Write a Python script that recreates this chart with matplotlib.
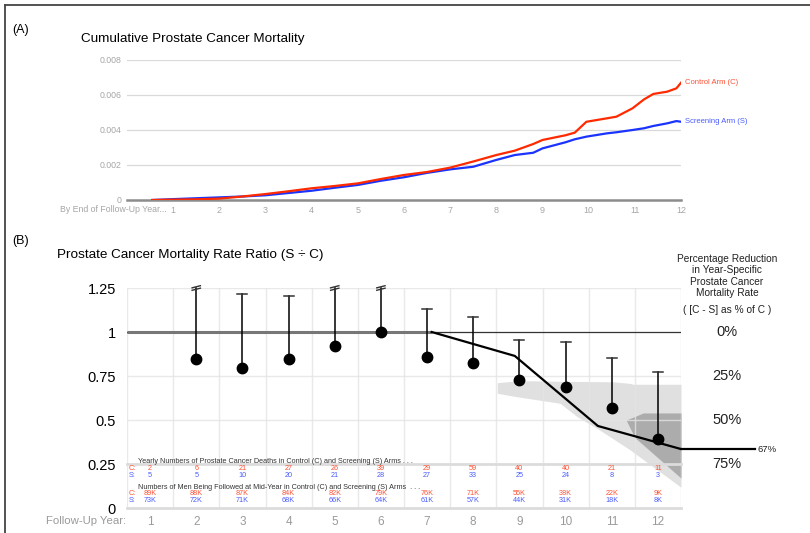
import matplotlib
matplotlib.use('Agg')
import matplotlib.pyplot as plt
import matplotlib.transforms as mtransforms
from matplotlib.lines import Line2D
import numpy as np

plt.rcParams['font.family'] = ['Liberation Sans', 'DejaVu Sans']

# ---- Panel A data: cumulative mortality by follow-up year ----
cum_years = [0.55, 1, 1.5, 2, 2.5, 3, 3.5, 4, 4.5, 5, 5.5, 6, 6.5, 7, 7.5, 8,
             8.4, 8.8, 9, 9.5, 9.7, 9.95, 10.4, 10.6, 10.95, 11.2, 11.4, 11.7, 11.9, 12]
cum_control = [0, 0.00002, 0.00004, 0.00008, 0.0002, 0.00034, 0.0005, 0.00067, 0.0008,
               0.00095, 0.0012, 0.00143, 0.0016, 0.00185, 0.0022, 0.00257,
               0.00282, 0.0032, 0.00343, 0.0037, 0.00385, 0.00447, 0.00467, 0.00476,
               0.00524, 0.00575, 0.00606, 0.00619, 0.00638, 0.0067]
cum_screen = [0, 0.00005, 0.0001, 0.00015, 0.0002, 0.00027, 0.0004, 0.00053, 0.0007,
              0.00086, 0.0011, 0.0013, 0.00155, 0.00175, 0.0019, 0.00229,
              0.00257, 0.0027, 0.00295, 0.0033, 0.00347, 0.00362, 0.00381, 0.00387,
              0.004, 0.0041, 0.00423, 0.00438, 0.00451, 0.00447]
cum_ticks = ['0', '0.002', '0.004', '0.006', '0.008']

# ---- Panel B data: rate ratio per follow-up year ----
years = list(range(1, 13))
ratio = [None, 0.847, 0.795, 0.847, 0.92, 1.0, 0.858, 0.824, 0.727, 0.687, 0.568, 0.392]
ratio_upper = [None, None, 1.214, 1.206, None, None, 1.13, 1.085, 0.955, 0.943, 0.852, 0.773]

fit_x = [0.5, 7.1, 8.9, 10.7, 12.5]
fit_y = [1.0, 1.0, 0.864, 0.466, 0.335]

light_x = [8.52, 8.86, 9.23, 9.88, 10.25, 10.68, 11.03, 11.40, 11.46, 12.5]
light_hi = [0.712, 0.72, 0.723, 0.72, 0.719, 0.718, 0.717, 0.708, 0.703, 0.703]
light_lo = [0.652, 0.636, 0.621, 0.595, 0.519, 0.453, 0.393, 0.33, 0.318, 0.118]
dark_x = [11.31, 11.5, 11.68, 12.5]
dark_hi = [0.50, 0.52, 0.54, 0.54]
dark_lo = [0.50, 0.40, 0.359, 0.17]

deaths_c = [2, 6, 21, 27, 26, 39, 29, 59, 40, 40, 21, 11]
deaths_s = [5, 5, 10, 20, 21, 28, 27, 33, 25, 24, 8, 3]
men_c = ['89K', '88K', '87K', '84K', '82K', '79K', '76K', '71K', '55K', '38K', '22K', '9K']
men_s = ['73K', '72K', '71K', '68K', '66K', '64K', '61K', '57K', '44K', '31K', '18K', '8K']

ratio_ticks = [0, 0.25, 0.5, 0.75, 1, 1.25]
ratio_labels = ['0', '0.25', '0.5', '0.75', '1', '1.25']
pct_labels = ['0%', '25%', '50%', '75%']

RED = '#ff2a00'
BLUE = '#1a33ff'
RED_T = '#ff5033'
BLUE_T = '#4a5cff'
GRID = '#e4e4e4'
GRAY_T = '#9a9a9a'

W, H = 810, 533
fig = plt.figure(figsize=(W / 100, H / 100), dpi=100)

# frame lines (top and left)
fig.add_artist(Line2D([5 / W, 1], [1 - 5 / H, 1 - 5 / H], color='#444444', lw=1.3))
fig.add_artist(Line2D([5 / W, 5 / W], [0, 1 - 5 / H], color='#444444', lw=1.3))

# ================= Panel A =================
axA = fig.add_axes([127 / W, 1 - 200 / H, 554 / W, 140 / H])
axA.set_xlim(0, 12)
axA.set_ylim(0, 0.008)
for s in axA.spines.values():
    s.set_visible(False)
for v in [0.002, 0.004, 0.006, 0.008]:
    axA.axhline(v, color='#d9d9d9', lw=0.9, zorder=0)
axA.axhline(0, color='#8c8c8c', lw=1.8, zorder=1, clip_on=False)

axA.plot(cum_years, cum_control, color=RED, lw=1.6, zorder=3)
axA.plot(cum_years, cum_screen, color=BLUE, lw=1.6, zorder=2)

axA.set_yticks([0, 0.002, 0.004, 0.006, 0.008])
axA.set_yticklabels(cum_ticks)
axA.set_xticks(range(1, 13))
axA.set_xticklabels([str(y) for y in range(1, 13)])
axA.tick_params(axis='y', length=0, pad=4, labelsize=6.3, labelcolor='#a6a6a6')
axA.tick_params(axis='x', length=0, pad=4, labelsize=6.5, labelcolor='#a6a6a6')

axA.text(12.08, cum_control[-1], 'Control Arm (C)', color=RED_T, fontsize=5.5,
         va='center', ha='left', clip_on=False)
axA.text(12.08, cum_screen[-1], 'Screening Arm (S)', color=BLUE_T, fontsize=5.5,
         va='center', ha='left', clip_on=False)

fig.text(167 / W, 1 - 209 / H, 'By End of Follow-Up Year...', color='#a6a6a6',
         fontsize=6.3, ha='right', va='center')
fig.text(12 / W, 1 - 30 / H, '(A)', fontsize=9, va='center', ha='left')
fig.text(81 / W, 1 - 39 / H, 'Cumulative Prostate Cancer Mortality', fontsize=9.7,
         va='center', ha='left')

# ================= Panel B =================
axB = fig.add_axes([127 / W, 1 - 508 / H, 554 / W, 220 / H])
axB.set_xlim(0.5, 12.5)
axB.set_ylim(0, 1.25)
for s in axB.spines.values():
    s.set_visible(False)

# shaded bands
axB.fill_between(light_x, light_lo, light_hi, color='#e0e0e0', lw=0, zorder=0.3)
axB.fill_between(dark_x, dark_lo, dark_hi, color='#acacac', lw=0, zorder=0.4)

# grid
for gx in np.arange(0.5, 13, 1.0):
    axB.axvline(gx, color=GRID, lw=1, zorder=1, alpha=0.8)
for gy in [0.5, 0.75, 1.25]:
    axB.axhline(gy, color=GRID, lw=1, zorder=1, alpha=0.8)
for gy in [0.25, 0]:
    axB.axhline(gy, color='#dcdcdc', lw=2, zorder=1, clip_on=False)
axB.axhline(1.0, color='#333333', lw=0.9, zorder=2)

# fitted line
axB.plot(fit_x[:2], fit_y[:2], color='#777777', lw=2.2, zorder=2.5, solid_capstyle='butt')
axB.plot(fit_x[1:], fit_y[1:], color='black', lw=1.6, zorder=3)
axB.plot([fit_x[-1], 14.1], [fit_y[-1], fit_y[-1]], color='black', lw=1.6, zorder=3,
         clip_on=False)
axB.text(14.15, fit_y[-1], '67%', fontsize=6.8, va='center', ha='left', color='#222222')

# error bars and points
for y, r, up in zip(years, ratio, ratio_upper):
    if r is None:
        continue
    top = up if up is not None else 1.25
    axB.plot([y, y], [r, top], color='black', lw=1.1, zorder=4, clip_on=False)
    if up is not None:
        axB.plot([y - 0.11, y + 0.11], [up, up], color='#333333', lw=1.1, zorder=4)
    else:
        for dy in (-0.007, 0.007):
            axB.plot([y - 0.09, y + 0.09], [1.25 + dy - 0.006, 1.25 + dy + 0.006],
                     color='#333333', lw=1.0, zorder=5, clip_on=False)
    axB.plot(y, r, 'o', color='black', markersize=7.5, zorder=5)

axB.set_yticks(ratio_ticks)
axB.set_yticklabels(ratio_labels)
axB.set_xticks(years)
axB.set_xticklabels([str(y) for y in years])
axB.tick_params(axis='y', length=0, pad=8, labelsize=10.5, labelcolor='black')
axB.tick_params(axis='x', length=0, pad=6, labelsize=8.5, labelcolor=GRAY_T)

fig.text(126 / W, 1 - 521 / H, 'Follow-Up Year:', color=GRAY_T, fontsize=8.2,
         ha='right', va='center')

# table rows inside the chart
hdr_kw = dict(fontsize=5.2, color='#333333', ha='left', va='center', zorder=6)
axB.text(0.74, 0.267, 'Yearly Numbers of Prostate Cancer Deaths in Control (C) and Screening (S) Arms . . .', **hdr_kw)
axB.text(0.74, 0.119, 'Numbers of Men Being Followed at Mid-Year in Control (C) and Screening (S) Arms  . . .', **hdr_kw)
for yy, lab, col in [(0.222, 'C:', RED_T), (0.182, 'S:', BLUE_T),
                     (0.080, 'C:', RED_T), (0.040, 'S:', BLUE_T)]:
    axB.text(0.53, yy, lab, fontsize=5.2, color=col, ha='left', va='center', zorder=6)
for y, dc, ds, mc, ms in zip(years, deaths_c, deaths_s, men_c, men_s):
    axB.text(y, 0.222, str(dc), fontsize=5.2, color=RED_T, ha='center', va='center', zorder=6)
    axB.text(y, 0.182, str(ds), fontsize=5.2, color=BLUE_T, ha='center', va='center', zorder=6)
    axB.text(y, 0.080, mc, fontsize=5.2, color=RED_T, ha='center', va='center', zorder=6)
    axB.text(y, 0.040, ms, fontsize=5.2, color=BLUE_T, ha='center', va='center', zorder=6)

# right-hand percentage scale
trans = mtransforms.blended_transform_factory(axB.transAxes, axB.transData)
for val, lab in zip([1.0, 0.75, 0.5, 0.25], pct_labels):
    axB.text((727 - 127) / 554, val, lab, transform=trans, fontsize=10.5,
             ha='center', va='center', color='#222222')
fig.text(727 / W, 1 - 276 / H,
         'Percentage Reduction\nin Year-Specific\nProstate Cancer\nMortality Rate',
         fontsize=7.3, ha='center', va='center', linespacing=1.15, color='#222222')
fig.text(727 / W, 1 - 310 / H, '( [C - S] as % of C )', fontsize=7.3,
         ha='center', va='center', color='#222222')

fig.text(12 / W, 1 - 241 / H, '(B)', fontsize=9, va='center', ha='left')
fig.text(57 / W, 1 - 255 / H, 'Prostate Cancer Mortality Rate Ratio (S \u00f7 C)',
         fontsize=9.7, va='center', ha='left')

fig.savefig('out.png', dpi=100, facecolor='white')
